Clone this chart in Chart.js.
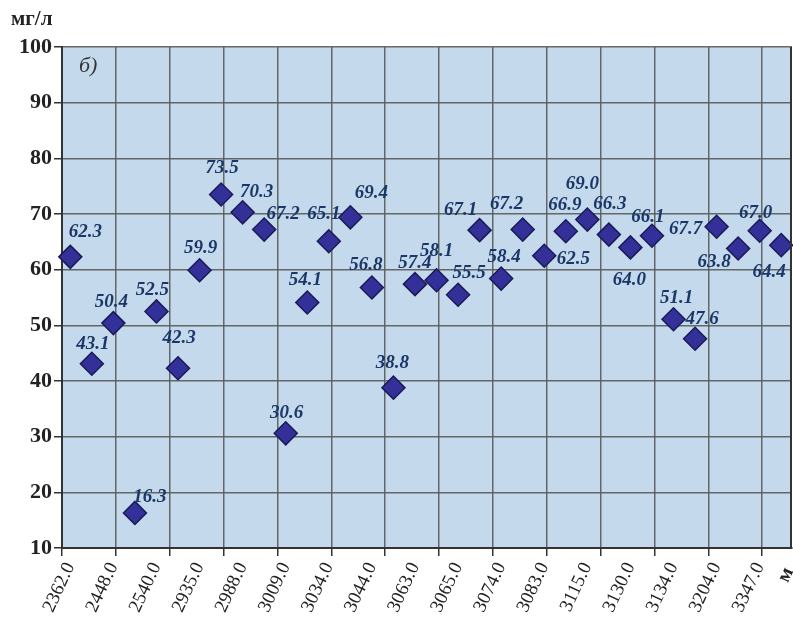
<!DOCTYPE html>
<html>
<head>
<meta charset="utf-8">
<script src="https://cdn.jsdelivr.net/npm/chart.js@4.4.1/dist/chart.umd.min.js"></script>
<style>
  body { margin: 0; background: #fff; }
  #box { width: 793px; height: 622px; }
</style>
</head>
<body>
<div id="box"><canvas id="chart"></canvas></div>
<script>
// значения, мг/л (по порядку проб)
const values = [62.3, 43.1, 50.4, 16.3, 52.5, 42.3, 59.9, 73.5, 70.3, 67.2,
  30.6, 54.1, 65.1, 69.4, 56.8, 38.8, 57.4, 58.1, 55.5, 67.1,
  58.4, 67.2, 62.5, 66.9, 69.0, 66.3, 64.0, 66.1, 51.1, 47.6,
  67.7, 63.8, 67.0, 64.4];

// подписи глубин (подписана каждая вторая проба)
const depthLabels = ['2362.0', '2448.0', '2540.0', '2935.0', '2988.0', '3009.0',
  '3034.0', '3044.0', '3063.0', '3065.0', '3074.0', '3083.0', '3115.0',
  '3130.0', '3134.0', '3204.0', '3347.0'];

const yTicks = [10, 20, 30, 40, 50, 60, 70, 80, 90, 100];

// смещение подписей значений относительно точки (dx, dy)
const labelShift = [[15,-25],[1,-20],[-2,-21],[15,-16],[-4,-21],[1,-30],[1,-22],[1,-26],[14,-20],[19,-15],
  [1,-20],[-2,-22],[-5,-27],[21,-24],[-6,-22],[-1,-25],[0,-21],[0,-29],[11,-22],[-19,-20],
  [3,-21],[-16,-25],[29,3],[-1,-26],[-5,-35],[1,-31],[-1,33],[-4,-19],[3,-21],[7,-20],
  [-31,2],[-24,14],[-4,-18],[-12,27]];

const serif = "'Liberation Serif', 'DejaVu Serif', serif";
const gridColor = 'rgba(90,90,90,0.9)';
const xMin = -0.385, xMax = 33.5;

const decor = {
  id: 'decor',
  beforeDraw(chart) {
    const { ctx, chartArea: a } = chart;
    ctx.save();
    ctx.fillStyle = '#c4d9ec';
    ctx.fillRect(a.left, a.top, a.right - a.left, a.bottom - a.top);
    ctx.restore();
  },
  afterDraw(chart) {
    const { ctx, chartArea: a } = chart;
    ctx.save();
    // правая рамка
    ctx.strokeStyle = '#333';
    ctx.lineWidth = 2;
    ctx.beginPath();
    ctx.moveTo(a.right - 1, a.top);
    ctx.lineTo(a.right - 1, a.bottom);
    ctx.stroke();

    // подписи значений
    const meta = chart.getDatasetMeta(0);
    ctx.font = 'bold italic 19px ' + serif;
    ctx.fillStyle = '#1b3767';
    ctx.textAlign = 'center';
    ctx.textBaseline = 'middle';
    meta.data.forEach((pt, i) => {
      const s = labelShift[i];
      ctx.fillText(values[i].toFixed(1), pt.x + s[0], pt.y + s[1]);
    });

    // единицы и пометка
    ctx.fillStyle = '#222';
    ctx.textAlign = 'left';
    ctx.font = 'bold 21px ' + serif;
    ctx.fillText('мг/л', 11, 20);
    ctx.font = 'italic 22px ' + serif;
    ctx.fillStyle = '#333';
    ctx.fillText('б)', 79, 66);
    ctx.translate(786, 575);
    ctx.rotate(-65 * Math.PI / 180);
    ctx.font = 'bold 20px ' + serif;
    ctx.fillStyle = '#222';
    ctx.textAlign = 'center';
    ctx.fillText('м', 0, 0);
    ctx.restore();
  }
};

new Chart(document.getElementById('chart'), {
  type: 'scatter',
  data: {
    datasets: [{
      data: values.map((v, i) => ({ x: i, y: v })),
      pointStyle: 'rectRot',
      pointRadius: 11.5,
      pointHoverRadius: 11.5,
      backgroundColor: '#34309a',
      borderColor: '#1b1a55',
      borderWidth: 1.5,
      clip: false
    }]
  },
  options: {
    responsive: true,
    maintainAspectRatio: false,
    animation: false,
    events: [],
    layout: { autoPadding: false, padding: { top: 47, right: 1, left: 0, bottom: 0 } },
    plugins: { legend: { display: false }, tooltip: { enabled: false } },
    scales: {
      x: {
        type: 'linear',
        position: 'bottom',
        min: xMin,
        max: xMax,
        afterBuildTicks: s => {
          const t = [];
          for (let v = xMin; v <= xMax; v += 2.5) t.push({ value: v });
          s.ticks = t;
        },
        afterFit: s => { s.height = 8; s.paddingLeft = 0; s.paddingRight = 0; },
        grid: { color: gridColor, lineWidth: 1.5, tickLength: 8, tickColor: '#333' },
        border: { color: '#333', width: 2 },
        ticks: { display: false }
      },
      xl: {
        type: 'linear',
        position: 'bottom',
        min: xMin,
        max: xMax,
        afterBuildTicks: s => {
          s.ticks = depthLabels.map((d, k) => ({ value: 2 * k }));
        },
        afterFit: s => { s.height = 66; s.paddingLeft = 0; s.paddingRight = 0; },
        grid: { display: false, drawTicks: false },
        border: { display: false },
        ticks: {
          autoSkip: false,
          minRotation: 65,
          maxRotation: 65,
          padding: 3,
          color: '#222',
          font: { family: serif, size: 19 },
          callback: (v) => depthLabels[Math.round(v / 2)]
        }
      },
      y: {
        min: 10,
        max: 100,
        afterFit: s => { s.width = 62; s.paddingTop = 0; s.paddingBottom = 0; },
        grid: {
          color: gridColor,
          lineWidth: 1.5,
          tickLength: 8,
          tickColor: c => (c.tick && c.tick.value % 10 === 0) ? '#333' : 'rgba(0,0,0,0)'
        },
        border: { color: '#333', width: 2 },
        ticks: {
          stepSize: 5,
          padding: 2,
          color: '#222',
          font: { family: serif, size: 22, weight: 'bold' },
          callback: v => yTicks.includes(v) ? v : ''
        }
      }
    }
  },
  plugins: [decor]
});
</script>
</body>
</html>
